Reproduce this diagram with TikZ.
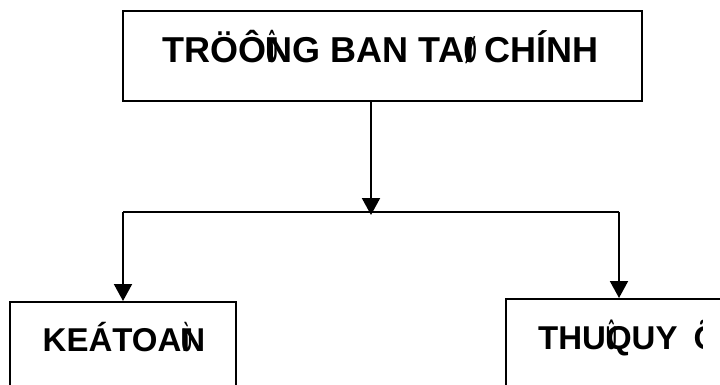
\documentclass[tikz,border=0pt]{standalone}
\usepackage{graphicx}
\usepackage{fontspec}
\setmainfont{Liberation Sans}
\usetikzlibrary{arrows.meta}
\newcommand\ovlglyph[1]{\makebox[0pt][l]{\scalebox{0.45}[1]{#1}}}
\begin{document}
\begin{tikzpicture}[x=1pt,y=-1pt,
  boxnode/.style={draw=black,line width=2pt,rectangle,inner sep=0pt,anchor=center},
  bigtext/.style={inner sep=0pt,font=\bfseries\fontsize{36}{40}\selectfont},
  subtext/.style={inner sep=0pt,font=\bfseries\fontsize{33}{38}\selectfont},
  conn/.style={line width=2pt,-{Triangle[length=17pt,width=18pt]}},
  plain/.style={line width=2pt}]
\useasboundingbox (0,0) rectangle (720,385);
\node[boxnode,minimum width=519pt,minimum height=90pt] (top) at (382.5,56) {};
\node[boxnode,minimum width=226pt,minimum height=100pt] (left) at (123,352) {};
\node[boxnode,minimum width=240pt,minimum height=104pt] (right) at (626,351) {};
\node[bigtext,anchor=base] (toptext) at (380.5,63) {TRÖÔ\ovlglyph{Û}NG BAN TA\ovlglyph{Ø}I CHÍNH};
\node[subtext,anchor=base] (lefttext) at (124,351) {KEÁTOA\ovlglyph{Ù}N};
\begin{scope}
\clip (506,299) rectangle (702,385);
\node[subtext,anchor=base west] (righttext) at (538,349) {THU\ovlglyph{Û}QUY\hspace{16pt}Õ};
\end{scope}
\coordinate (jn) at (371,215);
\coordinate (jl) at (123,211.5);
\coordinate (jr) at (619,211.5);
\draw[conn] (top.south -| jn) -- (jn);
\draw[plain] (jl) -- (jr);
\draw[conn] (jl) -- (jl |- left.north);
\draw[conn] (jr) -- (jr |- right.north);
\end{tikzpicture}
\end{document}
